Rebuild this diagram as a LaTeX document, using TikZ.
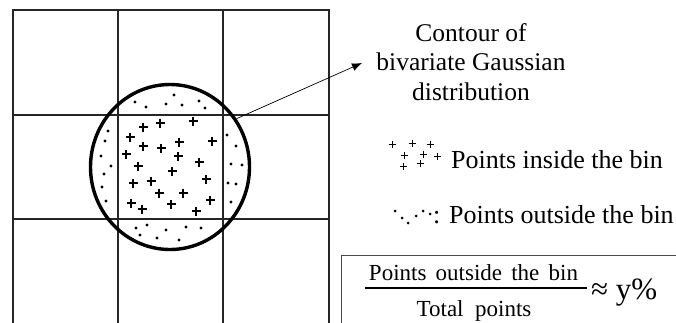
\documentclass[tikz,border=0pt]{standalone}
\usepackage{fontspec}
\setmainfont{Liberation Serif}
\usetikzlibrary{shapes.geometric,arrows.meta}
\begin{document}
\begin{tikzpicture}[x=1pt,y=-1pt,
  gridline/.style={line width=1.4pt,black!85},
  contourline/.style={line width=3.4pt,black},
  pointer/.style={line width=0.7pt,-{Latex[length=10pt,width=8pt]}},
  plusmark/.style={line width=1.2pt},
  lbl/.style={inner sep=0pt,font=\fontsize{25.5}{29.5}\selectfont},
  legend/.style={inner sep=0pt,font=\fontsize{26}{30}\selectfont},
  fractext/.style={inner sep=0pt,font=\fontsize{23}{26}\selectfont},
  framebox/.style={line width=0.9pt,black!70}]
\useasboundingbox (0,0) rectangle (676,322);
% grid
\draw[gridline] (13,323) -- (13,10) -- (329,10) -- (329,323);
\draw[gridline] (118,10) -- (118,323) (223,10) -- (223,323);
\draw[gridline] (13,115) -- (329,115) (13,219) -- (329,219);
% contour
\node[ellipse,draw,contourline,minimum width=159pt,minimum height=165pt,inner sep=0pt] (contour) at (170,167) {};
% plus marks inside bin
\foreach \x/\y in {143/127,160/123,193/121,130/137,143/146,161/148,179/142,212/141,126/154,178/156,199/162,138/166,172/171,133/183,151/181,206/179,159/193,183/193,131/203,142/209,171/204,210/200,196/211}
  \draw[plusmark] (\x-4.5,\y) -- (\x+4.5,\y) (\x,\y-4.5) -- (\x,\y+4.5);
% dots outside bin
\foreach \x/\y in {135/102,146/107,166/104,174/95,182/105,199/101,205/108,108/131,105/141,101/156,111/166,104/174,102/187,106/201,227/135,236/146,231/164,242/165,228/183,236/184,231/202,136/228,147/225,166/230,186/227,201/228,140/235,157/238,179/240}
  \fill (\x,\y) circle (1.6pt);
% label and arrow
\node[lbl,align=center] (title) at (471,62) {Contour of\\bivariate Gaussian\\distribution};
\coordinate (tip) at (362,63);
\draw[pointer] (contour.36) -- (tip);
% legend: inside
\foreach \x/\y in {392/144,412/143,430/144,404/155,423/154,437/156,403/166,420/163}
  \draw[line width=1pt] (\x-3.5,\y) -- (\x+3.5,\y) (\x,\y-3.5) -- (\x,\y+3.5);
\node[legend,anchor=base west] (inside) at (451,168) {Points inside the bin};
% legend: outside
\foreach \x/\y in {395/211,402/218,408/223,416/216,423/211,430/214}
  \fill (\x,\y) circle (1.5pt);
\node[legend,anchor=base west] (outside) at (433,223) {: Points outside the bin};
% ratio box
\draw[framebox] (341,330) -- (341,255) -- (680,255) -- (680,330);
\node[fractext,anchor=base] (num) at (473.5,280) {Points\hspace{0.4em}outside\hspace{0.4em}the\hspace{0.4em}bin};
\node[fractext,anchor=base] (den) at (474,316) {Total\hspace{0.5em}points};
\coordinate (barL) at (365,288);
\coordinate (barR) at (587,288);
\draw[line width=1.2pt] (barL) -- (barR);
\node[inner sep=0pt,anchor=west,font=\fontsize{31}{34}\selectfont] (ratio) at (591,293) {≈ y\%};
\end{tikzpicture}
\end{document}
